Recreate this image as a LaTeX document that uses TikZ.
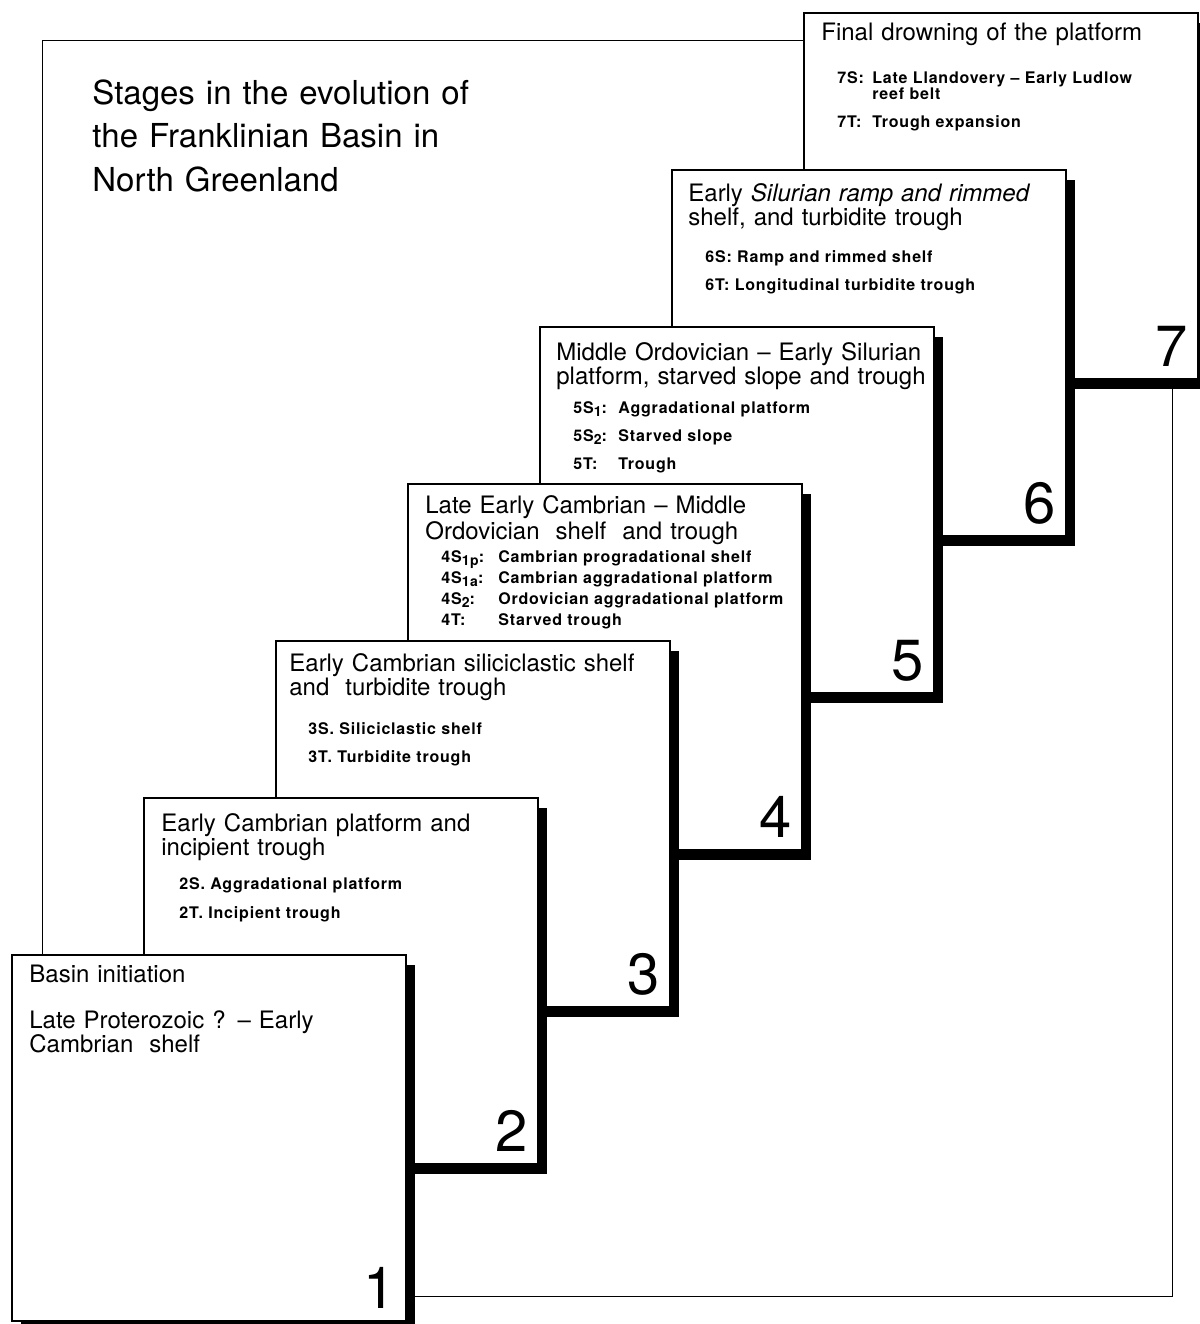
\documentclass[tikz,border=0pt]{standalone}
\usepackage{fontspec}
\setmainfont{TeX Gyre Heros}
\newfontfamily\itemfont[LetterSpace=5]{TeX Gyre Heros}
\usepackage{tikz}
\usetikzlibrary{calc,shadows}

\newcommand\lowsub[1]{\raisebox{-0.45ex}{\fontsize{7}{7}\selectfont #1}}
\newcommand\lab[2]{\makebox[#1][l]{#2}}

\tikzset{
  stagebox/.style={draw,line width=0.8pt,fill=white,anchor=north west,
    inner sep=0pt,outer sep=0pt,minimum width=197pt,minimum height=183pt,
    general shadow={fill=black,shadow xshift=4.5pt,shadow yshift=-5pt}},
  stagehead/.style={anchor=base west,inner sep=0pt,align=left,text width=190pt,
    font=\fontsize{12}{12}\selectfont},
  stageitem/.style={anchor=base west,inner sep=0pt,align=left,text width=190pt,
    font={\itemfont\bfseries\fontsize{8}{14.5}\selectfont\lineskiplimit=-5pt}},
  stagenum/.style={anchor=base east,inner sep=0pt,font=\fontsize{29}{29}\selectfont},
}

\begin{document}
\begin{tikzpicture}[x=0.5pt,y=-0.5pt]
  \useasboundingbox (0,0) rectangle (1200,1324);
  \node[draw,line width=0.7pt,anchor=north west,inner sep=0pt,
    minimum width=565pt,minimum height=628pt] (frame) at (42,40) {};
  \node[anchor=base west,inner sep=0pt,align=left,text width=220pt,
    font=\fontsize{16.5}{21.75}\selectfont] (title) at (92,104)
    {Stages in the evolution of\\the Franklinian Basin in\\North Greenland};

  % stage 7
  \node[stagebox] (s7) at (804,13) {};
  \node[stagehead] (h7) at ($(s7.north west)+(17,27)$) {Final drowning of the platform};
  \node[stageitem] (i7) at ($(s7.north west)+(33,70)$)
    {\lab{17.5pt}{7S:}Late Llandovery – Early Ludlow\\[-6.5pt]
     \lab{17.5pt}{}reef belt\\[-0.5pt]
     \lab{17.5pt}{7T:}Trough expansion};
  \node[stagenum] (n7) at ($(s7.south east)+(-10,-13)$) {7};

  % stage 6
  \node[stagebox] (s6) at (672,170) {};
  \node[stagehead] (h6) at ($(s6.north west)+(16,31)$)
    {Early \textit{Silurian ramp and rimmed}\\shelf, and turbidite trough};
  \node[stageitem] (i6) at ($(s6.north west)+(33,92)$)
    {6S: Ramp and rimmed shelf\\[-0.5pt]6T: Longitudinal turbidite trough};
  \node[stagenum] (n6) at ($(s6.south east)+(-10,-13)$) {6};

  % stage 5
  \node[stagebox] (s5) at (540,327) {};
  \node[stagehead] (h5) at ($(s5.north west)+(16,33)$)
    {Middle Ordovician – Early Silurian\\platform, starved slope and trough};
  \node[stageitem] (i5) at ($(s5.north west)+(33,86)$)
    {\lab{22.5pt}{5S\lowsub{1}:}Aggradational platform\\[-0.5pt]
     \lab{22.5pt}{5S\lowsub{2}:}Starved slope\\[-0.5pt]
     \lab{22.5pt}{5T:}Trough};
  \node[stagenum] (n5) at ($(s5.south east)+(-10,-13)$) {5};

  % stage 4
  \node[stagebox] (s4) at (408,484) {};
  \node[stagehead] (h4) at ($(s4.north west)+(17,29)$)
    {Late Early Cambrian – Middle\\[1pt]Ordovician\ \ shelf\ \ and trough};
  \node[stageitem] (i4) at ($(s4.north west)+(33,78)$)
    {\lab{28.5pt}{4S\lowsub{1p}:}Cambrian progradational shelf\\[-4pt]
     \lab{28.5pt}{4S\lowsub{1a}:}Cambrian aggradational platform\\[-4pt]
     \lab{28.5pt}{4S\lowsub{2}:}Ordovician aggradational platform\\[-4pt]
     \lab{28.5pt}{4T:}Starved trough};
  \node[stagenum] (n4) at ($(s4.south east)+(-10,-13)$) {4};

  % stage 3
  \node[stagebox] (s3) at (276,641) {};
  \node[stagehead] (h3) at ($(s3.north west)+(13,30)$)
    {Early Cambrian siliciclastic shelf\\and\ \ turbidite trough};
  \node[stageitem] (i3) at ($(s3.north west)+(32,93)$)
    {3S. Siliciclastic shelf\\[-0.5pt]3T. Turbidite trough};
  \node[stagenum] (n3) at ($(s3.south east)+(-10,-13)$) {3};

  % stage 2
  \node[stagebox] (s2) at (144,798) {};
  \node[stagehead] (h2) at ($(s2.north west)+(17,33)$)
    {Early Cambrian platform and\\incipient trough};
  \node[stageitem] (i2) at ($(s2.north west)+(35,91)$)
    {2S. Aggradational platform\\2T. Incipient trough};
  \node[stagenum] (n2) at ($(s2.south east)+(-10,-13)$) {2};

  % stage 1
  \node[stagebox] (s1) at (12,955) {};
  \node[stagehead] (h1) at ($(s1.north west)+(17,27)$)
    {Basin initiation\\[11pt]Late Proterozoic ? – Early\\Cambrian\ \ shelf};
  \node[stagenum] (n1) at ($(s1.south east)+(-10,-13)$) {1};
\end{tikzpicture}
\end{document}
